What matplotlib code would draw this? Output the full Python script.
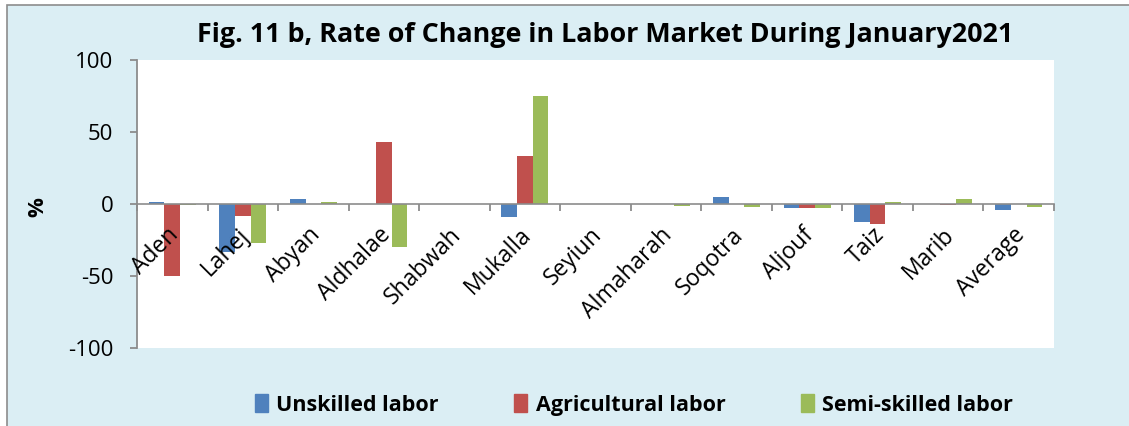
import matplotlib
matplotlib.use("Agg")
import matplotlib.pyplot as plt
import matplotlib.patches as mpatches
import matplotlib.transforms as mtransforms
import numpy as np

categories = ["Aden", "Lahej", "Abyan", "Aldhalae", "Shabwah", "Mukalla", "Seyiun",
              "Almaharah", "Soqotra", "Aljouf", "Taiz", "Marib", "Average"]
unskilled = [1.5, -33, 3.5, 0, 0, -9, 0, 0, 5, -2.5, -12.5, 0, -4]
agricultural = [-50, -8, 0, 43, 0, 33, 0, 0, 0, -2.5, -14, -1, 0]
semiskilled = [-1, -27, 1.5, -30, 0, 75, 0, -1.2, -1.8, -2.5, 1.2, 3.5, -1.8]
series_names = ["Unskilled labor", "Agricultural labor", "Semi-skilled labor"]
colors = ["#4F81BD", "#C0504D", "#9BBB59"]
yticks = [-100, -50, 0, 50, 100]

plt.rcParams['font.family'] = ['Open Sans', 'DejaVu Sans']

W, H = 1129, 426
fig = plt.figure(figsize=(W / 100, H / 100), dpi=100, facecolor="white")

# chart area background with border (cropped on right/bottom)
bg = mpatches.Rectangle((7 / W, -0.2), 2.0, 1.2 - 5 / H, transform=fig.transFigure,
                        facecolor="#DBEEF4", edgecolor="#8C8C8C", linewidth=1.2, zorder=-5)
fig.patches.append(bg)

ax = fig.add_axes([137 / W, 1 - 348 / H, (1054 - 137) / W, (348 - 60) / H])
ax.set_zorder(2)
ax.set_facecolor("white")
ax.set_axisbelow(False)

x = np.arange(len(categories))
w = 0.222
for i, (vals, c) in enumerate(zip([unskilled, agricultural, semiskilled], colors)):
    ax.bar(x + (i - 1) * w, vals, width=w, color=c, label=series_names[i], zorder=1)

ax.set_xlim(-0.5, len(categories) - 0.5)
ax.set_ylim(-100, 100)
ax.set_yticks(yticks)
ax.set_yticklabels([str(v) for v in yticks], fontsize=16)

for s in ["top", "right"]:
    ax.spines[s].set_visible(False)
ax.spines["bottom"].set_position(("data", 0))
ax.spines["bottom"].set_color("#8C8C8C")
ax.spines["left"].set_color("#8C8C8C")
ax.spines["bottom"].set_linewidth(1.2)
ax.spines["left"].set_linewidth(1.3)

ax.tick_params(axis="y", direction="out", length=5, width=1.3, color="#8C8C8C", pad=12)
ax.set_xticks(x)
ax.set_xticks(np.arange(-0.5, len(categories), 1.0), minor=True)
ax.tick_params(axis="x", which="major", length=0, pad=20)
ax.tick_params(axis="x", which="minor", direction="out", length=5, width=1.3, color="#8C8C8C")
ax.set_xticklabels(categories, fontsize=16.5, rotation=45, ha="right", va="center",
                   rotation_mode="anchor")
offset = mtransforms.ScaledTranslation(3 / 100, 0, fig.dpi_scale_trans)
for lab in ax.get_xticklabels():
    lab.set_transform(lab.get_transform() + offset)

fig.text(605 / W, 1 - 35 / H, "Fig. 11 b, Rate of Change in Labor Market During January2021",
         ha="center", va="center", fontsize=19.4, fontweight="bold")
fig.text(38 / W, 1 - 207 / H, "%", rotation=90, ha="center", va="center",
         fontsize=16, fontweight="bold")

handles = [mpatches.Patch(color=c) for c in colors]
fig.legend(handles, series_names, loc="center", bbox_to_anchor=(634 / W, 1 - 405 / H),
           ncol=3, frameon=False, prop={"weight": "bold", "size": 15.5},
           handlelength=0.6, handleheight=0.9, handletextpad=0.4, columnspacing=3.5)

fig.savefig("out.png", dpi=100, facecolor=fig.get_facecolor())
